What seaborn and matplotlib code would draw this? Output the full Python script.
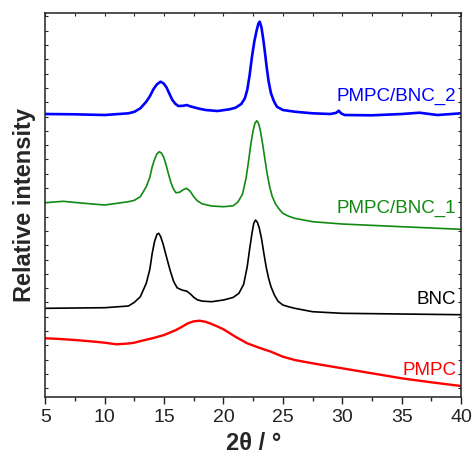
import numpy as np
import pandas as pd
import matplotlib
matplotlib.use("Agg")
import matplotlib.pyplot as plt
import seaborn as sns
from matplotlib.ticker import MultipleLocator, FixedLocator, NullFormatter

# ---- data (offset-stacked intensities, arbitrary units) ----
pmpc_x = [5, 6, 7.5, 9, 10, 11, 12, 12.5, 13, 14, 15, 16, 16.5, 17, 17.5, 18, 18.5,
          19, 19.5, 20, 21, 22, 23, 24, 25, 26, 27.5, 30, 32.5, 35, 37.5, 40]
pmpc_y = [5.90, 5.85, 5.73, 5.58, 5.46, 5.30, 5.38, 5.46, 5.62, 5.90, 6.23, 6.73,
          7.05, 7.40, 7.60, 7.66, 7.55, 7.33, 7.08, 6.80, 6.06, 5.40, 4.96, 4.56,
          4.06, 3.73, 3.40, 2.90, 2.40, 1.90, 1.50, 1.13]

bnc_x = [5, 10, 12, 12.5, 13, 13.5, 13.8, 14.0, 14.2, 14.4, 14.55, 14.7, 14.9, 15.1,
         15.3, 15.5, 15.8, 16.1, 16.5, 16.9, 17.2, 17.5, 17.8, 18.2, 19, 20, 20.8,
         21.3, 21.7, 22.0, 22.2, 22.4, 22.55, 22.7, 22.85, 23.0, 23.2, 23.4, 23.6,
         23.8, 24.0, 24.3, 24.6, 25, 25.5, 26, 27.5, 30, 35, 40]
bnc_y = [8.90, 8.96, 9.13, 9.50, 10.06, 11.40, 12.80, 14.40, 15.60, 16.30, 16.40,
         16.10, 15.40, 14.50, 13.60, 12.73, 11.60, 10.95, 10.73, 10.62, 10.35, 10.00,
         9.75, 9.62, 9.56, 9.73, 9.98, 10.40, 11.30, 13.06, 14.80, 16.40, 17.40,
         17.73, 17.50, 17.00, 15.90, 14.40, 13.00, 11.90, 11.06, 10.20, 9.60, 9.23,
         9.05, 8.90, 8.56, 8.40, 8.33, 8.26]

b1_x = [5, 6.5, 8, 10, 12, 12.5, 13, 13.5, 13.8, 14.0, 14.2, 14.4, 14.6, 14.8, 15.0,
        15.2, 15.4, 15.6, 15.8, 16.0, 16.3, 16.6, 16.9, 17.2, 17.5, 17.8, 18.2, 19,
        20, 20.8, 21.2, 21.6, 21.9, 22.1, 22.3, 22.5, 22.65, 22.8, 22.95, 23.1, 23.3,
        23.5, 23.7, 23.9, 24.1, 24.4, 24.7, 25, 25.5, 26, 27.5, 30, 35, 40]
b1_y = [19.46, 19.60, 19.43, 19.23, 19.56, 19.70, 20.06, 21.06, 22.00, 23.06, 23.80,
        24.35, 24.56, 24.40, 23.90, 23.10, 22.20, 21.40, 20.80, 20.46, 20.50, 20.75,
        20.90, 20.60, 20.06, 19.65, 19.35, 19.13, 19.06, 19.15, 19.50, 20.30, 21.90,
        23.50, 25.30, 26.70, 27.40, 27.66, 27.40, 26.73, 25.30, 23.73, 22.20, 21.00,
        20.10, 19.30, 18.80, 18.40, 18.10, 17.90, 17.56, 17.33, 17.06, 16.80]

b2_x = [5, 7.5, 10, 12, 12.5, 13, 13.5, 13.8, 14.1, 14.4, 14.7, 14.95, 15.2, 15.45,
        15.7, 15.95, 16.2, 16.6, 16.9, 17.2, 17.5, 18.0, 18.5, 19.5, 20.5, 21.0, 21.5,
        21.8, 22.0, 22.2, 22.4, 22.6, 22.8, 22.95, 23.05, 23.2, 23.35, 23.5, 23.65,
        23.8, 24.0, 24.25, 24.5, 25, 26, 27.5, 29, 29.5, 29.7, 29.9, 30.2, 32.5, 35,
        36.5, 38, 40]
b2_y = [28.33, 28.30, 28.23, 28.40, 28.55, 28.90, 29.56, 30.10, 30.80, 31.30, 31.56,
        31.40, 31.00, 30.35, 29.73, 29.35, 29.13, 29.15, 29.23, 29.10, 29.00, 28.85,
        28.73, 28.63, 28.80, 28.95, 29.33, 29.90, 30.73, 32.20, 34.06, 35.60, 36.73,
        37.40, 37.56, 37.00, 35.80, 34.40, 32.90, 31.60, 30.40, 29.60, 29.06, 28.73,
        28.56, 28.40, 28.33, 28.45, 28.66, 28.40, 28.23, 28.20, 28.33, 28.46, 28.23,
        28.40]

samples = ["PMPC", "BNC", "PMPC/BNC_1", "PMPC/BNC_2"]
colors = ["#ff0000", "#000000", "#118a11", "#0000ff"]
label_y = [2.66, 9.83, 18.93, 30.06]

series = {
    "PMPC": (pmpc_x, pmpc_y),
    "BNC": (bnc_x, bnc_y),
    "PMPC/BNC_1": (b1_x, b1_y),
    "PMPC/BNC_2": (b2_x, b2_y),
}

frames = []
for name in samples:
    xs, ys = series[name]
    frames.append(pd.DataFrame({"x": xs, "y": ys, "sample": name}))
df = pd.concat(frames, ignore_index=True)

# ---- plotting ----
sns.set_theme(style="ticks")
plt.rcParams["font.family"] = ["Liberation Sans", "DejaVu Sans"]

fig = plt.figure(figsize=(4.74, 4.59), dpi=100)
ax = fig.add_axes([0.0956, 0.1344, 0.8770, 0.8366])

widths = {"PMPC": 1.7, "BNC": 1.2, "PMPC/BNC_1": 1.2, "PMPC/BNC_2": 1.9}
for name, col in zip(samples, colors):
    sub = df[df["sample"] == name]
    sns.lineplot(data=sub, x="x", y="y", color=col, lw=widths[name], ax=ax,
                 legend=False, estimator=None, sort=False)

for name, col, ly in zip(samples, colors, label_y):
    ax.text(39.6, ly, name, color=col, fontsize=13.5, ha="right", va="center")

ax.set_xlim(5, 40)
ax.set_ylim(0, 38.4)
ax.xaxis.set_major_locator(MultipleLocator(5))
ax.xaxis.set_minor_locator(MultipleLocator(2.5))
ax.yaxis.set_major_locator(FixedLocator(list(np.arange(0.91, 38.4, 1.43))))
ax.yaxis.set_major_formatter(NullFormatter())

ax.tick_params(axis="x", which="major", direction="out", length=5, width=1,
               labelsize=14, colors="#222222", top=False)
ax.tick_params(axis="x", which="minor", direction="out", length=3, width=1, top=False)
ax.tick_params(axis="y", which="major", direction="in", length=2, width=0.8,
               left=True, right=True)

# small inward ticks on top spine
top = ax.secondary_xaxis("top")
top.xaxis.set_major_locator(MultipleLocator(2.5))
top.tick_params(direction="in", length=2, width=0.8, labeltop=False)
top.spines["top"].set_visible(False)

for s in ax.spines.values():
    s.set_linewidth(1.1)
    s.set_color("#222222")

ax.set_xlabel("2θ / °", fontsize=17, fontweight="bold", labelpad=4)
ax.set_ylabel("Relative intensity", fontsize=17, fontweight="bold", labelpad=3.5)

fig.savefig("out.png", dpi=100)
